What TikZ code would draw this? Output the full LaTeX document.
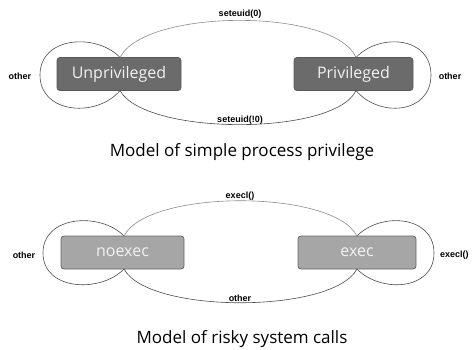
\documentclass[tikz,border=0pt]{standalone}
\usepackage{fontspec}
\setmainfont{Open Sans}
\newfontfamily\labelfont{Liberation Sans}
\begin{document}
\begin{tikzpicture}[x=1pt,y=-1pt,
  darkstate/.style={draw=black!65, line width=0.8pt, fill=black!58, rounded corners=3pt,
    text=white!95!black, font=\fontsize{16}{18}\selectfont, inner sep=0pt},
  lightstate/.style={draw=black!60, line width=0.8pt, fill=black!35, rounded corners=3pt,
    text=white!95!black, font=\fontsize{16}{18}\selectfont, inner sep=0pt},
  edge/.style={draw=black!70, line width=0.6pt},
  softedge/.style={draw=black!45, line width=0.6pt},
  lbl/.style={font=\labelfont\bfseries\fontsize{9}{10}\selectfont, inner sep=0pt},
  caption/.style={font=\fontsize{17}{19}\selectfont, inner sep=0pt, anchor=base}]
\useasboundingbox (0,0) rectangle (472,349);

% ---- simple process privilege ----
\node[darkstate, minimum width=124pt, minimum height=33pt] (unp) at (119,74) {Unprivileged};
\node[darkstate, minimum width=119pt, minimum height=33pt] (pri) at (353.5,74) {Privileged};

\coordinate (unpT) at (120,57.5);
\coordinate (unpB) at (120,90.5);
\coordinate (priT) at (356,57.5);
\coordinate (priB) at (356,90.5);

\draw[edge] (unpT) .. controls (97,33) and (40,36) .. (40,75)
                   .. controls (40,114) and (97,118) .. (unpB);
\draw[edge] (priT) .. controls (379,33) and (431,36) .. (431,75)
                   .. controls (431,114) and (379,118) .. (priB);
\draw[softedge] (unpT) .. controls (145,8) and (335,8) .. (priT);
\draw[edge] (unpB) .. controls (145,136) and (335,136) .. (priB);

\node[lbl] (l1) at (240,14) {seteuid(0)};
\node[lbl] (l2) at (240,120) {seteuid(!0)};
\node[lbl] (l3) at (20,76) {other};
\node[lbl] (l4) at (450,76) {other};

\node[caption] (c1) at (242,156) {Model of simple process privilege};

% ---- risky system calls ----
\node[lightstate, minimum width=123pt, minimum height=33pt] (noe) at (122.5,252.5) {noexec};
\node[lightstate, minimum width=118pt, minimum height=33pt] (exe) at (357,252.5) {exec};

\coordinate (noeT) at (124,236);
\coordinate (noeB) at (124,269);
\coordinate (exeT) at (357,236);
\coordinate (exeB) at (357,269);

\draw[edge] (noeT) .. controls (101,212) and (43,215) .. (43,253)
                   .. controls (43,291) and (101,293) .. (noeB);
\draw[edge] (exeT) .. controls (380,212) and (434,215) .. (434,253)
                   .. controls (434,291) and (380,293) .. (exeB);
\draw[softedge] (noeT) .. controls (148,189) and (333,189) .. (exeT);
\draw[edge] (noeB) .. controls (148,314) and (333,314) .. (exeB);

\node[lbl] (m1) at (240,196) {execl()};
\node[lbl] (m2) at (240,298) {other};
\node[lbl] (m3) at (24,255) {other};
\node[lbl, anchor=west] (m4) at (440,255) {execl()};

\node[caption] (c2) at (242,343) {Model of risky system calls};
\end{tikzpicture}
\end{document}
